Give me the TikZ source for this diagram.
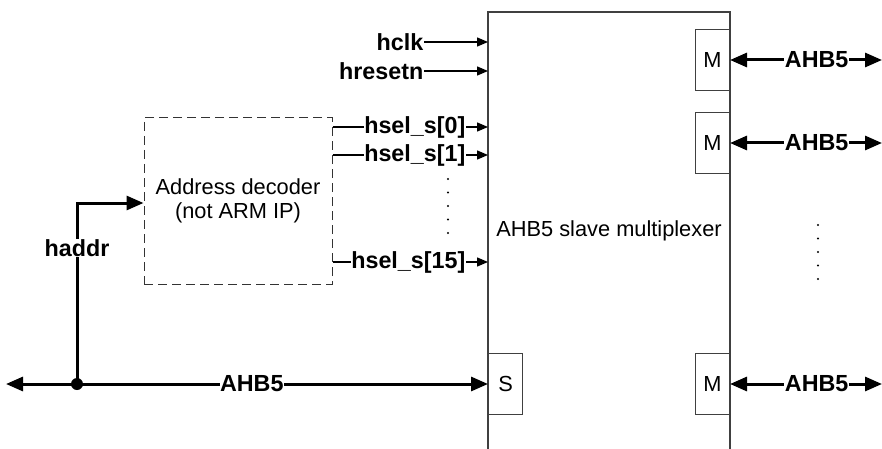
\documentclass[tikz,border=0pt]{standalone}
\usepackage{fontspec}
\setmainfont{Liberation Sans}
\usetikzlibrary{arrows.meta}
\begin{document}
\begin{tikzpicture}[x=1pt,y=-1pt,
  lbl/.style={font=\fontsize{23.3}{26}\selectfont\bfseries, inner sep=0.5pt},
  txt/.style={font=\fontsize{21.8}{24}\selectfont, inner sep=0pt},
  port/.style={draw=black!75, line width=1.2pt, minimum width=34pt, minimum height=61pt, inner sep=0pt, font=\fontsize{21.8}{24}\selectfont, fill=white},
  thin/.style={line width=1.3pt, -{Triangle[length=11pt,width=9pt]}},
  bus/.style={line width=3pt, {Triangle[length=17pt,width=14pt]}-{Triangle[length=17pt,width=14pt]}},
  busr/.style={line width=3pt, -{Triangle[length=17pt,width=14pt]}},
  dot/.style={circle, fill=black, inner sep=0pt, minimum size=2.2pt}
]
\useasboundingbox (0,0) rectangle (882,449);
\begin{scope}
\clip (0,0) rectangle (882,449);
% main multiplexer box (open at the bottom)
\coordinate (mtl) at (488,12);
\coordinate (mtr) at (730,12);
\coordinate (mbl) at (488,449);
\coordinate (mbr) at (730,449);
\draw[black!75, line width=1.2pt] (mbl) -- (mtl) -- (mtr) -- (mbr);
\end{scope}
\node[txt] (mux) at (609,231) {AHB5 slave multiplexer};

% ports
\node[port, anchor=east] (m1) at (730,60) {M};
\node[port, anchor=east] (m2) at (730,143) {M};
\node[port, anchor=east] (m3) at (730,384) {M};
\node[port, anchor=west] (s1) at (488,384) {S};

% right buses
\coordinate (r1) at (882,60);
\coordinate (r2) at (882,143);
\coordinate (r3) at (882,384);
\draw[bus] (m1.east) -- (r1) node[lbl, fill=white, pos=0.57] {AHB5};
\draw[bus] (m2.east) -- (r2) node[lbl, fill=white, pos=0.57] {AHB5};
\draw[bus] (m3.east) -- (r3) node[lbl, fill=white, pos=0.57] {AHB5};

% right dots
\foreach \yy [count=\i] in {225,238.5,252,265.5,279}
  \node[dot] (rd\i) at (818,\yy) {};

% clock / reset
\node[lbl, anchor=east] (hclk) at (424,42) {hclk};
\node[lbl, anchor=east] (hrst) at (424,71) {hresetn};
\draw[thin] (hclk.east) -- (hclk.east -| mtl);
\draw[thin] (hrst.east) -- (hrst.east -| mtl);

% address decoder
\node[draw=black!80, dashed, dash pattern=on 9pt off 5pt, line width=1pt, minimum width=188pt, minimum height=166pt,
      align=center, font=\fontsize{21.8}{24}\selectfont, inner sep=0pt] (dec) at (238,201)
      {Address decoder\\(not ARM IP)};

% hsel signals
\node[lbl, anchor=east] (hs0) at (466,127) {hsel\_s[0]};
\node[lbl, anchor=east] (hs1) at (466,155) {hsel\_s[1]};
\node[lbl, anchor=east] (hs15) at (466,262) {hsel\_s[15]};
\draw[line width=1.3pt] (hs0.west -| dec.east) -- (hs0.west);
\draw[line width=1.3pt] (hs1.west -| dec.east) -- (hs1.west);
\draw[line width=1.3pt] (hs15.west -| dec.east) -- (hs15.west);
\draw[thin] (hs0.east) -- (hs0.east -| mtl);
\draw[thin] (hs1.east) -- (hs1.east -| mtl);
\draw[thin] (hs15.east) -- (hs15.east -| mtl);
\foreach \yy [count=\i] in {179,192.5,206,219.5,233}
  \node[dot] (ld\i) at (448,\yy) {};

% bottom AHB5 bus
\coordinate (left) at (6,384);
\coordinate (jc) at (77,384);
\draw[bus] (left) -- (s1.west) node[lbl, fill=white, pos=0.51] {AHB5};

% haddr
\coordinate (hc) at (77,203);
\draw[busr] (jc) -- (hc) -- (hc -| dec.west);
\node[lbl, fill=white] (haddr) at (77,248) {haddr};
\node[circle, fill=black, inner sep=0pt, minimum size=12pt] (j) at (jc) {};
\end{tikzpicture}
\end{document}
